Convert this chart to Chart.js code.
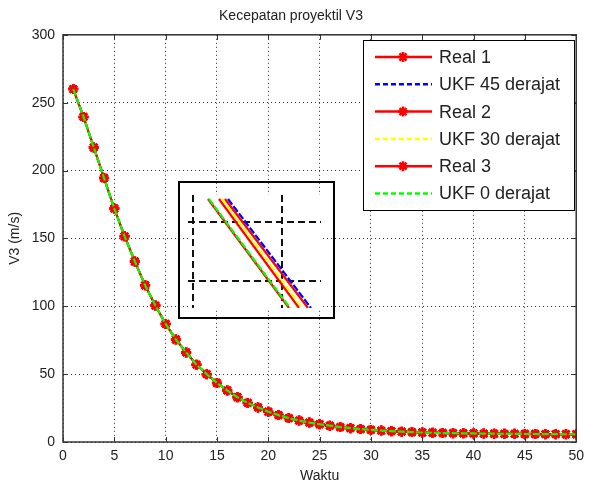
<!DOCTYPE html>
<html>
<head>
<meta charset="utf-8">
<script src="https://cdn.jsdelivr.net/npm/chart.js@4.4.1/dist/chart.umd.min.js"></script>
<style>
  body { margin: 0; background: #fff; }
  #wrap { position: relative; width: 590px; height: 486px; }
  #inset { position: absolute; left: 178px; top: 181px; width: 153px; height: 134px; border: 2px solid #000; }
</style>
</head>
<body>
<div id="wrap">
  <canvas id="v3Chart" width="590" height="486"></canvas>
  <div id="inset"><canvas id="zoomChart" width="153" height="134"></canvas></div>
</div>
<script>
// Time steps and projectile speed V3
const waktu = [1, 2, 3, 4, 5, 6, 7, 8, 9, 10,
               11, 12, 13, 14, 15, 16, 17, 18, 19, 20,
               21, 22, 23, 24, 25, 26, 27, 28, 29, 30,
               31, 32, 33, 34, 35, 36, 37, 38, 39, 40,
               41, 42, 43, 44, 45, 46, 47, 48, 49, 50];
const v3Real = [260, 239.5, 217, 194.5, 172, 151.5, 133, 115.5, 100.5, 87,
                75.5, 66, 57, 50, 43.5, 38, 33, 28.8, 25.5, 22.3,
                19.8, 17.6, 15.8, 14.3, 13.1, 12, 11, 10.2, 9.5, 8.9,
                8.4, 8, 7.6, 7.3, 7, 6.8, 6.6, 6.5, 6.4, 6.3,
                6.2, 6.1, 6, 6, 5.9, 5.9, 5.8, 5.8, 5.7, 5.7];
const v3Ukf = [260, 239.5, 217, 194.5, 172, 151.5, 133, 115.5, 100.5, 87,
               75.5, 66, 57, 50, 43.5, 38, 33, 28.8, 25.5, 22.3,
               19.8, 17.6, 15.8, 14.3, 13.1, 12, 11, 10.2, 9.5, 8.9,
               8.4, 8, 7.6, 7.3, 7, 6.8, 6.6, 6.5, 6.4, 6.3,
               6.2, 6.1, 6, 6, 5.9, 5.9, 5.8, 5.8, 5.7, 5.7];
const xTicks = [0, 5, 10, 15, 20, 25, 30, 35, 40, 45, 50];
const yTicks = [0, 50, 100, 150, 200, 250, 300];

// Zoomed detail (inset units), two ends of each segment
const insetV = [109, 0];
const insetReal1 = [37, 120];
const insetUkf45 = [40, 123];
const insetReal2 = [31, 111];
const insetUkf30 = [34, 114];
const insetReal3 = [20, 101];
const insetUkf0 = [21, 102];
const insetGridT = [5, 94];
const insetGridV = [27, 86];

const FONT = "'Liberation Sans', Arial, sans-serif";
const TEXT = '#222';

function series(xs, ys) {
    return xs.map((x, i) => ({ x: x, y: ys[i] }));
}

function realSet(label, values, order) {
    return {
        label: label,
        data: series(waktu, values),
        borderColor: '#ff0000',
        backgroundColor: '#ff0000',
        borderWidth: 2,
        pointStyle: 'star',
        pointRadius: 5,
        pointBorderWidth: 2.5,
        pointBorderColor: '#ff0000',
        order: order
    };
}

function ukfSet(label, values, color, order) {
    return {
        label: label,
        data: series(waktu, values),
        borderColor: color,
        borderWidth: 2.2,
        borderDash: [7, 2],
        pointRadius: 0,
        order: order
    };
}

function drawStar(ctx, x, y, r) {
    const d = r * Math.SQRT1_2;
    ctx.beginPath();
    ctx.moveTo(x - r, y); ctx.lineTo(x + r, y);
    ctx.moveTo(x, y - r); ctx.lineTo(x, y + r);
    ctx.moveTo(x - d, y - d); ctx.lineTo(x + d, y + d);
    ctx.moveTo(x - d, y + d); ctx.lineTo(x + d, y - d);
    ctx.stroke();
}

// Axes box with inward tick marks on all four sides
const axesFrame = {
    id: 'axesFrame',
    afterDraw(chart) {
        const { ctx, chartArea: a, scales } = chart;
        ctx.save();
        ctx.strokeStyle = '#333';
        ctx.lineWidth = 1.5;
        ctx.strokeRect(a.left, a.top, a.right - a.left, a.bottom - a.top);
        ctx.lineWidth = 1;
        ctx.beginPath();
        xTicks.forEach(v => {
            const px = Math.round(scales.x.getPixelForValue(v)) + 0.5;
            ctx.moveTo(px, a.bottom); ctx.lineTo(px, a.bottom - 5);
            ctx.moveTo(px, a.top); ctx.lineTo(px, a.top + 5);
        });
        yTicks.forEach(v => {
            const py = Math.round(scales.y.getPixelForValue(v)) + 0.5;
            ctx.moveTo(a.left, py); ctx.lineTo(a.left + 5, py);
            ctx.moveTo(a.right, py); ctx.lineTo(a.right - 5, py);
        });
        ctx.stroke();
        ctx.restore();
    }
};

// Boxed legend in the top right corner, line sample plus marker
const boxLegend = {
    id: 'boxLegend',
    afterDraw(chart) {
        const ctx = chart.ctx;
        const x0 = 363, y0 = 40, w = 211, h = 170;
        ctx.save();
        ctx.fillStyle = '#fff';
        ctx.fillRect(x0, y0, w, h);
        ctx.strokeStyle = '#000';
        ctx.lineWidth = 1;
        ctx.strokeRect(x0 + 0.5, y0 + 0.5, w, h);
        ctx.font = '18px ' + FONT;
        ctx.textBaseline = 'middle';
        ctx.fillStyle = TEXT;
        chart.data.datasets.forEach((ds, i) => {
            const y = 57 + i * 27.3;
            ctx.strokeStyle = ds.borderColor;
            ctx.lineWidth = 2.5;
            ctx.setLineDash(ds.borderDash ? [5, 3] : []);
            ctx.beginPath();
            ctx.moveTo(375, y);
            ctx.lineTo(432, y);
            ctx.stroke();
            ctx.setLineDash([]);
            if (ds.pointStyle) {
                ctx.lineWidth = ds.pointBorderWidth;
                drawStar(ctx, 403, y, ds.pointRadius);
            }
            ctx.fillText(ds.label, 439, y + 1);
        });
        ctx.restore();
    }
};

new Chart(document.getElementById('v3Chart'), {
    type: 'line',
    data: {
        datasets: [
            realSet('Real 1', v3Real, 6),
            ukfSet('UKF 45 derajat', v3Ukf, '#0000ff', 5),
            realSet('Real 2', v3Real, 4),
            ukfSet('UKF 30 derajat', v3Ukf, '#ffff00', 3),
            realSet('Real 3', v3Real, 2),
            ukfSet('UKF 0 derajat', v3Ukf, '#00ff00', 1)
        ]
    },
    options: {
        responsive: false,
        animation: false,
        events: [],
        layout: { padding: { left: 0, right: 8, top: 0, bottom: 0 } },
        plugins: {
            legend: { display: false },
            tooltip: { enabled: false },
            title: {
                display: true,
                text: 'Kecepatan proyektil V3',
                color: TEXT,
                font: { family: FONT, size: 14, weight: 'normal' },
                padding: { top: 8, bottom: 10 }
            }
        },
        scales: {
            x: {
                type: 'linear',
                min: 0,
                max: 50,
                afterBuildTicks: s => { s.ticks = xTicks.map(v => ({ value: v })); },
                afterFit: s => { s.height = 44; },
                ticks: { color: TEXT, padding: 6, font: { family: FONT, size: 14 } },
                grid: { color: 'rgba(0,0,0,0.8)', lineWidth: 1, drawTicks: false, borderDash: [1, 3] },
                border: { display: false, dash: [1, 3] },
                title: {
                    display: true,
                    text: 'Waktu',
                    color: TEXT,
                    font: { family: FONT, size: 14 },
                    padding: { top: 0, bottom: 1 }
                }
            },
            y: {
                min: 0,
                max: 300,
                afterBuildTicks: s => { s.ticks = yTicks.map(v => ({ value: v })); },
                afterFit: s => { s.width = 63; },
                ticks: { color: TEXT, padding: 8, font: { family: FONT, size: 14 } },
                grid: { color: 'rgba(0,0,0,0.8)', lineWidth: 1, drawTicks: false, borderDash: [1, 3] },
                border: { display: false, dash: [1, 3] },
                title: {
                    display: true,
                    text: 'V3 (m/s)',
                    color: TEXT,
                    font: { family: FONT, size: 14 },
                    padding: { top: 7, bottom: 0 }
                }
            }
        }
    },
    plugins: [axesFrame, boxLegend]
});

// White plot area for the zoomed view
const insetBackground = {
    id: 'insetBackground',
    beforeDraw(chart) {
        const { ctx, chartArea: a } = chart;
        ctx.save();
        ctx.fillStyle = '#fff';
        ctx.fillRect(a.left, a.top, a.right - a.left, a.bottom - a.top);
        ctx.restore();
    }
};

function insetLine(xs, color, dashed, order) {
    return {
        data: series(xs, insetV),
        borderColor: color,
        borderWidth: 2.2,
        borderDash: dashed ? [7, 2] : [],
        pointRadius: 0,
        order: order
    };
}

const insetAxis = (lo, hi, gridValues) => ({
    type: 'linear',
    min: lo,
    max: hi,
    afterBuildTicks: s => { s.ticks = gridValues.map(v => ({ value: v })); },
    afterFit: s => { s.width = 0; s.height = 0; },
    ticks: { display: false },
    grid: { color: '#111', lineWidth: 2, drawTicks: false, borderDash: [7, 4] },
    border: { display: false, dash: [7, 4] }
});

new Chart(document.getElementById('zoomChart'), {
    type: 'line',
    data: {
        datasets: [
            insetLine(insetReal1, '#ff0000', false, 6),
            insetLine(insetUkf45, '#0000ff', true, 5),
            insetLine(insetReal2, '#ff0000', false, 4),
            insetLine(insetUkf30, '#ffff00', true, 3),
            insetLine(insetReal3, '#ff0000', false, 2),
            insetLine(insetUkf0, '#00ff00', true, 1)
        ]
    },
    options: {
        responsive: false,
        animation: false,
        events: [],
        layout: { padding: { left: 8, right: 12, top: 12, bottom: 9 } },
        plugins: { legend: { display: false }, tooltip: { enabled: false } },
        scales: {
            x: insetAxis(0, 133, insetGridT),
            y: insetAxis(0, 113, insetGridV)
        }
    },
    plugins: [insetBackground]
});
</script>
</body>
</html>
